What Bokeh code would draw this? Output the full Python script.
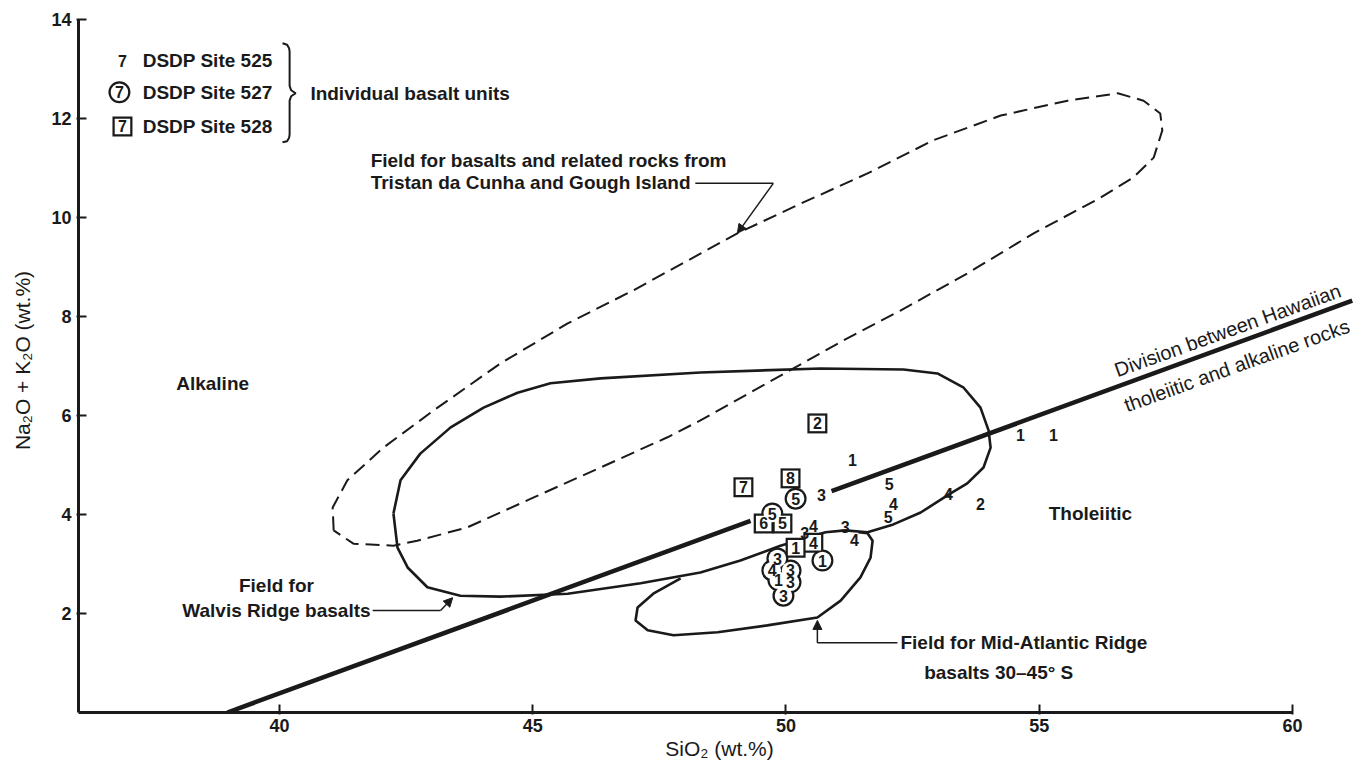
from bokeh.plotting import figure
from bokeh.models import Range1d, FixedTicker, Arrow, NormalHead
from bokeh.core.properties import value
from bokeh.embed import file_html
from bokeh.resources import INLINE

# ---- Field outlines (SiO2 wt.%, Na2O+K2O wt.%) ----
walvis_sio2 = [42.25, 42.39, 42.78, 43.38, 44.03, 44.70, 45.35, 46.34, 48.31, 50.68, 52.32, 52.99,
               53.50, 53.84, 54.00, 54.04, 53.90, 53.58, 53.21, 52.66, 52.12, 51.61, 51.17, 50.78,
               50.29, 49.89, 49.10, 48.31, 47.13, 45.69, 44.36, 43.57, 42.92, 42.53, 42.33, 42.25]
walvis_alk = [4.02, 4.69, 5.23, 5.76, 6.16, 6.46, 6.65, 6.75, 6.87, 6.95, 6.93, 6.85,
              6.57, 6.16, 5.70, 5.35, 4.95, 4.63, 4.40, 4.04, 3.80, 3.64, 3.68, 3.64,
              3.49, 3.37, 3.07, 2.83, 2.61, 2.40, 2.34, 2.36, 2.53, 2.93, 3.33, 4.02]

tristan_sio2 = [41.07, 41.05, 41.34, 42.05, 43.04, 44.36, 45.69, 46.99, 48.31, 49.04, 50.29, 51.61,
                52.91, 54.24, 55.56, 56.55, 57.06, 57.39, 57.43, 57.26, 56.86, 56.21, 54.89, 53.58,
                52.26, 51.14, 48.31, 47.66, 46.34, 45.01, 43.71, 42.72, 42.25, 41.46, 41.07]
tristan_alk = [3.68, 4.14, 4.69, 5.35, 6.10, 7.05, 7.86, 8.53, 9.27, 9.68, 10.28, 10.89,
               11.56, 12.06, 12.36, 12.51, 12.36, 12.10, 11.76, 11.21, 10.81, 10.40, 9.68, 8.87,
               8.12, 7.52, 5.90, 5.56, 4.95, 4.34, 3.74, 3.47, 3.37, 3.41, 3.68]

mar_sio2 = [47.92, 47.38, 47.07, 47.03, 47.27, 47.78, 48.65, 49.63, 50.62, 51.08, 51.47, 51.67,
            51.71, 51.61, 51.43]
mar_alk = [2.71, 2.40, 2.12, 1.86, 1.66, 1.56, 1.62, 1.76, 1.92, 2.26, 2.73, 3.13,
           3.47, 3.62, 3.64]

# Hawaiian tholeiitic / alkaline division (two drawn pieces)
division_sio2_a = [38.97, 49.30]
division_alk_a = [0.0, 3.87]
division_sio2_b = [50.90, 61.18]
division_alk_b = [4.47, 8.32]

# ---- Individual basalt units ----
site525_sio2 = [51.31, 50.70, 52.04, 52.12, 52.02, 50.54, 51.17, 51.35, 50.37, 53.21, 53.84, 54.63, 55.28]
site525_alk = [5.11, 4.40, 4.61, 4.22, 3.94, 3.76, 3.74, 3.49, 3.62, 4.42, 4.22, 5.60, 5.60]
site525_unit = ["1", "3", "5", "4", "5", "4", "3", "4", "3", "4", "2", "1", "1"]

site527_sio2 = [50.19, 50.72, 49.73, 49.83, 49.73, 50.09, 49.85, 50.09, 49.95]
site527_alk = [4.32, 3.07, 4.02, 3.11, 2.87, 2.87, 2.67, 2.63, 2.36]
site527_unit = ["5", "1", "5", "3", "4", "3", "1", "3", "3"]

site528_sio2 = [50.62, 50.09, 49.16, 49.56, 49.93, 50.19, 50.54]
site528_alk = [5.84, 4.73, 4.55, 3.82, 3.82, 3.33, 3.43]
site528_unit = ["2", "8", "7", "6", "5", "1", "4"]

x_ticks = [40, 45, 50, 55, 60]
y_ticks = [2, 4, 6, 8, 10, 12, 14]

FONT = value("Liberation Sans")
INK = "#1a1a1a"

p = figure(width=1360, height=766, output_backend="svg", toolbar_location=None,
           x_range=Range1d(36.032, 61.343), y_range=Range1d(0, 14.222),
           min_border_left=78, min_border_right=0, min_border_top=8, min_border_bottom=54)
p.outline_line_color = None
p.grid.visible = False
p.background_fill_color = "white"
p.border_fill_color = "white"

for ax in (p.xaxis[0], p.yaxis[0]):
    ax.axis_line_width = 3
    ax.axis_line_color = INK
    ax.major_tick_line_width = 2
    ax.major_tick_line_color = INK
    ax.minor_tick_line_color = None
    ax.major_label_text_font = "Liberation Sans"
    ax.major_label_text_font_style = "bold"
    ax.major_label_text_font_size = "18px"
    ax.major_label_text_color = INK
    ax.axis_label_text_font = "Liberation Sans"
    ax.axis_label_text_font_style = "normal"
    ax.axis_label_text_font_size = "21px"
    ax.axis_label_text_color = INK
    ax.major_tick_in = 8
    ax.major_tick_out = 2

p.xaxis[0].ticker = FixedTicker(ticks=x_ticks)
p.xaxis[0].bounds = (36.0, 60.0)
p.xaxis[0].axis_label = "SiO₂ (wt.%)"
p.xaxis[0].major_label_standoff = 4
p.xaxis[0].axis_label_standoff = 2

p.yaxis[0].ticker = FixedTicker(ticks=y_ticks)
p.yaxis[0].bounds = (0, 14)
p.yaxis[0].axis_label = "Na₂O + K₂O (wt.%)"
p.yaxis[0].major_label_standoff = 5
p.yaxis[0].axis_label_standoff = 14

# Fields
p.line(tristan_sio2, tristan_alk, line_color=INK, line_width=2, line_dash="14 7")
p.line(walvis_sio2, walvis_alk, line_color=INK, line_width=2.6)
p.line(mar_sio2, mar_alk, line_color=INK, line_width=2.6)
p.line(division_sio2_a, division_alk_a, line_color=INK, line_width=4.5)
p.line(division_sio2_b, division_alk_b, line_color=INK, line_width=4.5)

# Markers: outer dark shapes first, then white insides (merged outlines)
p.scatter(site527_sio2, site527_alk, marker="circle", size=22, fill_color=INK, line_color=None)
p.scatter(site528_sio2, site528_alk, marker="square", size=20, fill_color=INK, line_color=None)
p.scatter(site527_sio2, site527_alk, marker="circle", size=17.5, fill_color="white", line_color=None)
p.scatter(site528_sio2, site528_alk, marker="square", size=15.5, fill_color="white", line_color=None)

num_kw = dict(text_font=FONT, text_font_size="16px", text_font_style="bold", text_color=INK,
              text_align="center", text_baseline="middle")
p.text(site525_sio2, site525_alk, text=site525_unit, **num_kw)
p.text(site527_sio2, site527_alk, text=site527_unit, **num_kw)
p.text(site528_sio2, site528_alk, text=site528_unit, **num_kw)

# Legend (top left)
p.scatter([36.84], [12.53], marker="circle", size=22, fill_color=INK, line_color=None)
p.scatter([36.84], [12.53], marker="circle", size=17.5, fill_color="white", line_color=None)
p.scatter([36.90], [11.84], marker="square", size=20, fill_color=INK, line_color=None)
p.scatter([36.90], [11.84], marker="square", size=15.5, fill_color="white", line_color=None)
p.text([36.90, 36.84, 36.90], [13.17, 12.53, 11.84], text=["7", "7", "7"], **num_kw)
lab_kw = dict(text_font=FONT, text_font_size="19px", text_font_style="bold", text_color=INK,
              text_baseline="middle")
p.text([37.30, 37.30, 37.30], [13.17, 12.53, 11.84],
       text=["DSDP Site 525", "DSDP Site 527", "DSDP Site 528"], text_align="left", **lab_kw)
brace_x = [40.06, 40.15, 40.19, 40.20, 40.20, 40.23, 40.32, 40.23, 40.20, 40.20, 40.19, 40.15, 40.06]
brace_y = [13.52, 13.49, 13.42, 13.35, 12.66, 12.57, 12.51, 12.45, 12.36, 11.68, 11.61, 11.54, 11.52]
p.line(brace_x, brace_y, line_color=INK, line_width=2)
p.text([40.61], [12.51], text=["Individual basalt units"], text_align="left", **lab_kw)

# Field labels
p.text([41.80, 41.80], [11.15, 10.71],
       text=["Field for basalts and related rocks from", "Tristan da Cunha and Gough Island"],
       text_align="left", **lab_kw)
p.line([48.21, 49.75], [10.69, 10.69], line_color=INK, line_width=1.5)
p.add_layout(Arrow(end=NormalHead(size=9, fill_color=INK, line_color=INK), line_color=INK,
                   line_width=1.5, x_start=49.75, y_start=10.69, x_end=49.04, y_end=9.68))

p.text([38.68], [6.65], text=["Alkaline"], text_align="center", **lab_kw)
p.text([56.01], [4.02], text=["Tholeiitic"], text_align="center", **lab_kw)

p.text([39.94, 39.94], [2.57, 2.06], text=["Field for", "Walvis Ridge basalts"], text_align="center", **lab_kw)
p.line([41.84, 43.18], [2.06, 2.06], line_color=INK, line_width=1.5)
p.add_layout(Arrow(end=NormalHead(size=9, fill_color=INK, line_color=INK), line_color=INK,
                   line_width=1.5, x_start=43.18, y_start=2.06, x_end=43.42, y_end=2.32))

p.text([52.26], [1.41], text=["Field for Mid-Atlantic Ridge"], text_align="left", **lab_kw)
p.text([54.20], [0.81], text=["basalts 30–45° S"], text_align="center", **lab_kw)
p.line([52.20, 50.62], [1.41, 1.41], line_color=INK, line_width=1.5)
p.add_layout(Arrow(end=NormalHead(size=9, fill_color=INK, line_color=INK), line_color=INK,
                   line_width=1.5, x_start=50.62, y_start=1.41, x_end=50.62, y_end=1.86))

div_kw = dict(text_font=FONT, text_font_size="20px", text_color=INK, angle=0.345,
              text_align="center", text_baseline="middle")
p.text([58.72], [7.72], text=["Division between Hawaiian"], **div_kw)
p.text([58.90], [7.01], text=["tholeiitic and alkaline rocks"], **div_kw)

open("out.html", "w").write(file_html(p, INLINE))
